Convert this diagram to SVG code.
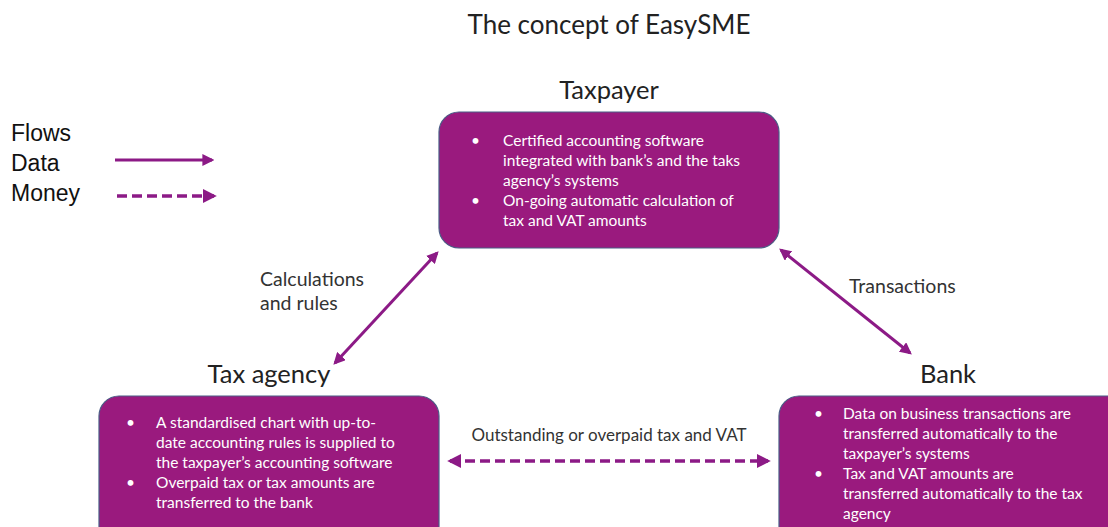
<svg xmlns="http://www.w3.org/2000/svg" width="1108" height="527" viewBox="0 0 1108 527">
<style>
.title{font-family:Lato,"Open Sans",sans-serif;font-size:26px;fill:#222}
.head{font-family:Lato,"Open Sans",sans-serif;font-size:25.5px;fill:#222}
.lbl{font-family:Lato,"Open Sans",sans-serif;font-size:19.5px;fill:#333}
.leg{font-family:"Liberation Sans",Arial,sans-serif;font-size:23px;fill:#111}
.box{fill:#9A1A7E;stroke:#4A5D86;stroke-width:1.2}
.bt{font-family:Lato,"Liberation Sans",sans-serif;font-size:15.5px;fill:#fff}
.data{stroke:#8C1A86;stroke-width:3;fill:none}
.money{stroke:#8C1A86;stroke-width:3.5;fill:none;stroke-dasharray:10 5}
</style>
<defs>
<marker id="ah" viewBox="0 0 10 10" refX="8" refY="5" markerWidth="4" markerHeight="4" orient="auto-start-reverse" markerUnits="strokeWidth">
<path d="M0,0 L10,5 L0,10 z" fill="#8C1A86"/>
</marker>
</defs>
<text class="title" x="609" y="34" text-anchor="middle">The concept of EasySME</text>

<g id="legend">
<text class="leg" x="11" y="141">Flows</text>
<text class="leg" x="11" y="171">Data</text>
<text class="leg" x="11" y="201">Money</text>
<line class="data" x1="115" y1="160" x2="212" y2="160" marker-end="url(#ah)"/>
<line class="money" x1="117" y1="196" x2="214" y2="196" marker-end="url(#ah)"/>
</g>

<g id="taxpayer">
<text class="head" x="609" y="99" text-anchor="middle">Taxpayer</text>
<rect class="box" x="439" y="112" width="340" height="136" rx="20"/>
<text class="bt" x="471" y="146">•</text>
<text class="bt" x="503" y="146">Certified accounting software</text>
<text class="bt" x="503" y="166">integrated with bank’s and the taks</text>
<text class="bt" x="503" y="186">agency’s systems</text>
<text class="bt" x="471" y="206">•</text>
<text class="bt" x="503" y="206">On-going automatic calculation of</text>
<text class="bt" x="503" y="226">tax and VAT amounts</text>
</g>

<g id="taxagency">
<text class="head" x="269" y="383" text-anchor="middle">Tax agency</text>
<rect class="box" x="99" y="396" width="340" height="150" rx="20"/>
<text class="bt" x="126" y="428">•</text>
<text class="bt" x="156" y="428">A standardised chart with up-to-</text>
<text class="bt" x="156" y="448">date accounting rules is supplied to</text>
<text class="bt" x="156" y="468">the taxpayer’s accounting software</text>
<text class="bt" x="126" y="488">•</text>
<text class="bt" x="156" y="488">Overpaid tax or tax amounts are</text>
<text class="bt" x="156" y="508">transferred to the bank</text>
</g>

<g id="bank">
<text class="head" x="948" y="383" text-anchor="middle">Bank</text>
<rect class="box" x="779" y="396" width="350" height="150" rx="20"/>
<text class="bt" x="814" y="419">•</text>
<text class="bt" x="843" y="419">Data on business transactions are</text>
<text class="bt" x="843" y="439">transferred automatically to the</text>
<text class="bt" x="843" y="459">taxpayer’s systems</text>
<text class="bt" x="814" y="479">•</text>
<text class="bt" x="843" y="479">Tax and VAT amounts are</text>
<text class="bt" x="843" y="499">transferred automatically to the tax</text>
<text class="bt" x="843" y="519">agency</text>
</g>

<g id="connectors">
<line class="data" x1="437" y1="253" x2="335" y2="363" marker-start="url(#ah)" marker-end="url(#ah)"/>
<text class="lbl" x="260" y="286">Calculations</text>
<text class="lbl" x="260" y="310">and rules</text>
<line class="data" x1="781" y1="250" x2="910" y2="353" marker-start="url(#ah)" marker-end="url(#ah)"/>
<text class="lbl" x="849" y="293">Transactions</text>
<line class="money" x1="450" y1="461" x2="768" y2="461" marker-start="url(#ah)" marker-end="url(#ah)"/>
<text class="lbl" x="609" y="441" text-anchor="middle" style="font-size:17px">Outstanding or overpaid tax and VAT</text>
</g>
</svg>
